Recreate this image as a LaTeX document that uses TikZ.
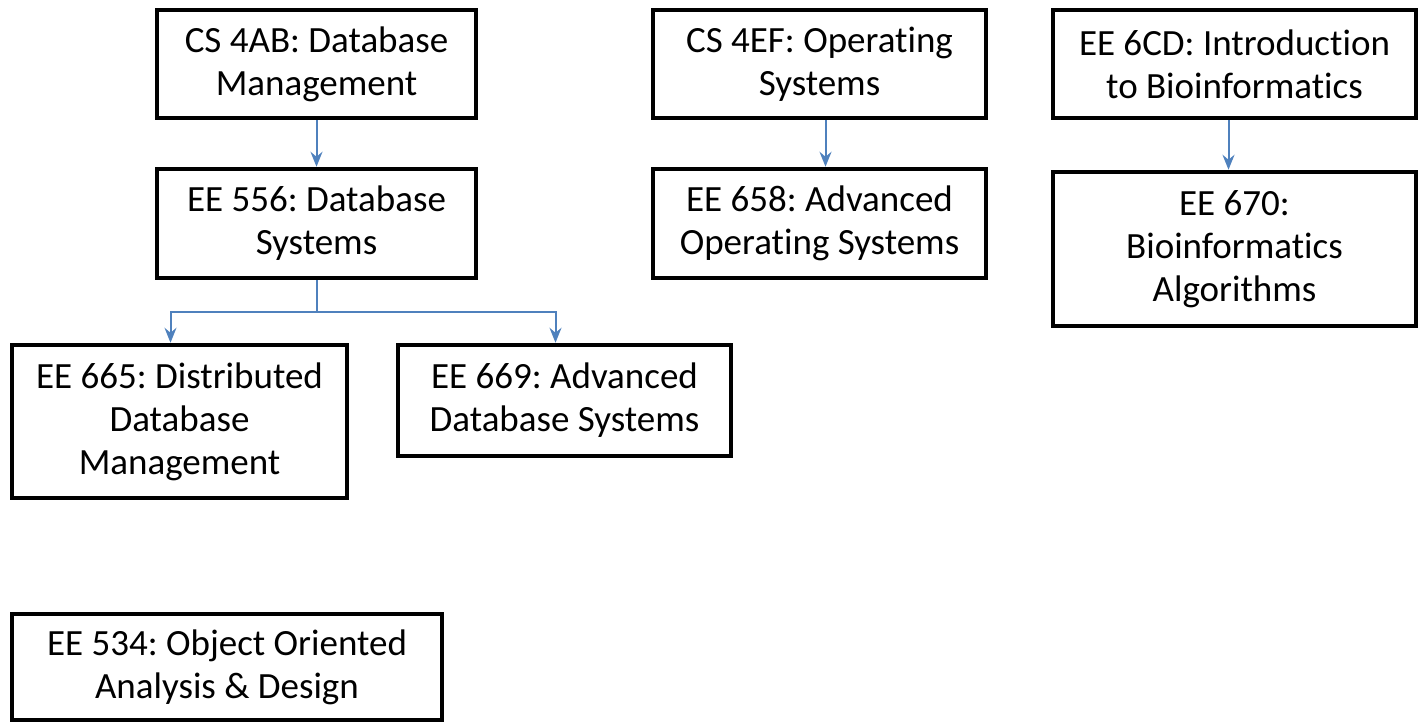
\documentclass[tikz,border=0pt]{standalone}
\usepackage{fontspec}
\setmainfont{Carlito}[Ligatures=NoCommon]
\usetikzlibrary{arrows.meta}
\definecolor{linkblue}{RGB}{79,129,189}
\frenchspacing
\begin{document}
\begin{tikzpicture}[x=1pt,y=-1pt,
  font=\fontsize{37pt}{43pt}\selectfont,
  >={Stealth[length=15pt,width=12pt,inset=5pt]},
  course/.style={draw,line width=4.5pt,align=center,inner sep=0pt,fill=white},
  link/.style={->,draw=linkblue,line width=2pt,color=linkblue}]
\useasboundingbox (0,0) rectangle (1420,724);
% first column
\node[course,minimum width=319pt,minimum height=108pt] (cs4ab) at (316.5,64) {CS 4AB: Database\\Management};
\node[course,minimum width=319pt,minimum height=109pt] (ee556) at (316.5,223.5) {EE 556: Database\\Systems};
\node[course,minimum width=335pt,minimum height=153pt] (ee665) at (179.5,421.5) {EE 665: Distributed\\Database\\Management};
\node[course,minimum width=333pt,minimum height=111pt] (ee669) at (564.5,400.5) {EE 669: Advanced\\Database Systems};
\node[course,minimum width=430pt,minimum height=106pt] (ee534) at (227,667) {EE 534: Object Oriented\\Analysis \& Design};
% second column
\node[course,minimum width=333pt,minimum height=108pt] (cs4ef) at (819.5,64) {CS 4EF: Operating\\Systems};
\node[course,minimum width=333pt,minimum height=109pt] (ee658) at (819.5,223.5) {EE 658: Advanced\\Operating Systems};
% third column
\node[course,minimum width=363pt,minimum height=108pt] (ee6cd) at (1234.5,64) {EE 6CD: Introduction\\to Bioinformatics};
\node[course,minimum width=363pt,minimum height=154pt] (ee670) at (1234.5,249) {EE 670:\\Bioinformatics\\Algorithms};
% prerequisites
\draw[link] (cs4ab.south) -- (ee556.north);
\draw[link] ([xshift=6pt]cs4ef.south) -- ([xshift=6pt]ee658.north);
\draw[link] ([xshift=-6pt]ee6cd.south) -- ([xshift=-6pt]ee670.north);
\coordinate (fork) at ([yshift=-32pt]ee556.south);
\draw[link] (ee556.south) -- (fork) -| ([xshift=-9pt]ee665.north);
\draw[link] (fork) -| ([xshift=-9pt]ee669.north);
\end{tikzpicture}
\end{document}
